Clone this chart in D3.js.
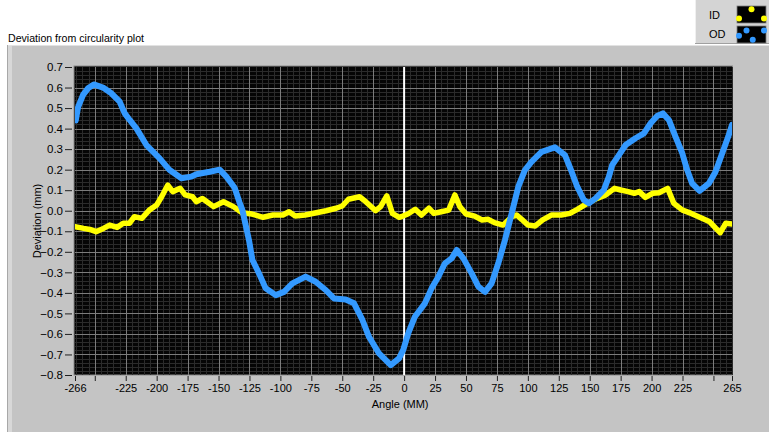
<!DOCTYPE html>
<html>
<head>
<meta charset="utf-8">
<script src="https://cdn.jsdelivr.net/npm/d3@7"></script>
<style>
  html, body { margin: 0; padding: 0; background: #ffffff; }
  svg { display: block; font-family: "Liberation Sans", Arial, sans-serif; }
</style>
</head>
<body>
<svg id="chart" width="769" height="432"></svg>
<script>
// ID trace (inner diameter): angle and deviation in mm
const idAngle = [-266,-259,-254,-249,-243,-238,-232,-227,-222,-218,-212,-206,-200,-196,-191,-187,-181,-177,-171,-168,-163,-154,-146,-138,-131,-123,-114,-106,-98,-93,-88,-80,-71,-63,-55,-50,-45,-36,-31,-23,-19,-14,-9.5,-4,-1,3,9,14,20,24,30,36,41,45,50,57,63,68,73,80,87,91,95,100,106,112,119,127,134,140,148,156,163,170,175,181,186,190,195,201,206,213,218,225,232,238,247,252,255.5,260,265];
const idDev = [-0.078,-0.086,-0.091,-0.102,-0.086,-0.070,-0.081,-0.061,-0.061,-0.029,-0.037,0.003,0.028,0.068,0.125,0.093,0.109,0.077,0.068,0.044,0.060,0.020,0.044,0.020,-0.010,-0.016,-0.032,-0.021,-0.021,-0.005,-0.026,-0.021,-0.010,0.000,0.012,0.023,0.056,0.068,0.044,0.000,0.020,0.072,-0.013,-0.032,-0.026,-0.016,0.007,-0.021,0.012,-0.013,-0.005,0.003,0.077,0.020,-0.016,-0.026,-0.045,-0.042,-0.058,-0.070,-0.029,-0.021,-0.042,-0.070,-0.074,-0.045,-0.021,-0.021,-0.013,0.007,0.036,0.060,0.077,0.109,0.101,0.093,0.085,0.093,0.065,0.085,0.088,0.109,0.036,0.003,-0.013,-0.029,-0.054,-0.086,-0.107,-0.061,-0.065];

// OD trace (outer diameter): angle and deviation in mm
const odAngle = [-265.4,-263.5,-259.5,-255.5,-250.8,-243.4,-236.6,-229.9,-225.8,-221.8,-216.4,-208.3,-197.6,-189.5,-180,-172,-167.9,-157.1,-149.1,-143.7,-137,-133,-130.7,-125.4,-122.6,-117.3,-111.9,-103.8,-97.1,-90.3,-79.6,-71.5,-63.4,-56.7,-47.2,-40.5,-33.7,-28.4,-20.3,-10.8,-4.1,-0.7,3.3,8.7,16.8,22.2,27.7,33,38.4,42.5,47.9,54.6,60,65.4,70.7,76.1,81.5,86.9,92.3,97.6,103.1,111.1,121.9,130,135.4,139.9,145.3,149.3,154.7,161.4,165.5,168.2,173.6,179,187,193.8,199.2,204.5,209.1,214,219.4,224.8,228.8,232.8,238.8,246.3,251.7,257.1,261.9,265];
const odDev = [0.440,0.505,0.564,0.596,0.615,0.600,0.572,0.531,0.474,0.442,0.401,0.320,0.255,0.198,0.158,0.166,0.178,0.190,0.200,0.166,0.112,0.040,0.003,-0.143,-0.240,-0.305,-0.378,-0.411,-0.395,-0.354,-0.321,-0.346,-0.386,-0.427,-0.432,-0.451,-0.532,-0.614,-0.695,-0.752,-0.719,-0.678,-0.597,-0.516,-0.451,-0.378,-0.321,-0.256,-0.232,-0.191,-0.232,-0.305,-0.370,-0.395,-0.354,-0.256,-0.143,-0.013,0.117,0.198,0.239,0.287,0.309,0.271,0.190,0.117,0.052,0.036,0.060,0.101,0.166,0.223,0.271,0.320,0.353,0.377,0.426,0.461,0.474,0.442,0.360,0.280,0.198,0.133,0.097,0.133,0.190,0.280,0.360,0.418];

// Axis ticks and labels
const xTicks = [-266,-250,-225,-200,-175,-150,-125,-100,-75,-50,-25,0,25,50,75,100,125,150,175,200,225,250,265];
const xTickLabels = ["-266","","-225","-200","-175","-150","-125","-100","-75","-50","-25","0","25","50","75","100","125","150","175","200","225","","265"];
const yTicks = [0.7,0.6,0.5,0.4,0.3,0.2,0.1,0.0,-0.1,-0.2,-0.3,-0.4,-0.5,-0.6,-0.7,-0.8];

const seriesNames = ["ID", "OD"];
const seriesColors = ["#ffff00", "#3399ff"];

const svg = d3.select("#chart");
const W = 769, H = 432;
const plot = { left: 75, right: 732, top: 67, bottom: 375 };

const x = d3.scaleLinear().domain([-266, 265]).range([plot.left, plot.right]);
const y = d3.scaleLinear().domain([-0.8, 0.7]).range([plot.bottom, plot.top]);

// Panel background with bevelled edges
svg.append("rect").attr("x", 0).attr("y", 0).attr("width", W).attr("height", H).attr("fill", "#ffffff");
svg.append("rect").attr("x", 7).attr("y", 45).attr("width", W - 7).attr("height", H - 45).attr("fill", "#c4c4c4");
svg.append("rect").attr("x", 7).attr("y", 45).attr("width", 5).attr("height", H - 45).attr("fill", "#d8d8d8");
svg.append("line").attr("x1", 7).attr("x2", W).attr("y1", 45.5).attr("y2", 45.5).attr("stroke", "#e2e2e2");
svg.append("line").attr("x1", 7.5).attr("x2", 7.5).attr("y1", 45).attr("y2", H).attr("stroke", "#a8a8a8");

// Title
svg.append("text").attr("x", 8).attr("y", 42).attr("font-size", "10.6px").attr("fill", "#000")
  .text("Deviation from circularity plot");

// Legend panel
const leg = svg.append("g");
leg.append("rect").attr("x", 695).attr("y", 0).attr("width", 74).attr("height", 44).attr("fill", "#d4d4d4");
leg.append("line").attr("x1", 695.5).attr("x2", 695.5).attr("y1", 0).attr("y2", 44).attr("stroke", "#f0f0f0");
leg.append("line").attr("x1", 695).attr("x2", 769).attr("y1", 43.5).attr("y2", 43.5).attr("stroke", "#a0a0a0");
const legendRows = [{ y: 6, ty: 19 }, { y: 26, ty: 38 }];
const swatchPts = [
  [[0.0, 0.8], [0.5, 0.1], [1.0, 0.8]],
  [[0.0, 0.6], [0.3, 0.2], [0.55, 0.9], [1.0, 0.2]]
];
seriesNames.forEach((name, i) => {
  const r = legendRows[i];
  leg.append("text").attr("x", 709).attr("y", r.ty).attr("font-size", "11px").attr("fill", "#000").text(name);
  leg.append("rect").attr("x", 737).attr("y", r.y).attr("width", 29).attr("height", 17)
    .attr("fill", "#000").attr("stroke", "#808080").attr("stroke-width", 0.8);
  const sx = d3.scaleLinear().domain([0, 1]).range([739, 764]);
  const sy = d3.scaleLinear().domain([0, 1]).range([r.y + 2, r.y + 15]);
  leg.append("g").selectAll("circle").data(swatchPts[i]).join("circle")
    .attr("cx", d => sx(d[0])).attr("cy", d => sy(d[1])).attr("r", 3).attr("fill", seriesColors[i]);
});

// Plot area
svg.append("rect").attr("x", plot.left - 1).attr("y", plot.top - 1)
  .attr("width", plot.right - plot.left + 1.5).attr("height", plot.bottom - plot.top + 1)
  .attr("fill", "#050505").attr("stroke", "#8a8a8a").attr("stroke-width", 1);

const grid = svg.append("g");
// Minor grid
const xMinor = d3.range(-265, 266, 5).filter(v => v % 25 !== 0);
const yMinor = d3.range(-80, 71, 2).filter(v => v % 10 !== 0).map(v => v / 100);
grid.selectAll("line.xm").data(xMinor).join("line")
  .attr("x1", d => Math.round(x(d)) + 0.5).attr("x2", d => Math.round(x(d)) + 0.5)
  .attr("y1", plot.top).attr("y2", plot.bottom).attr("stroke", "#2b2b2b").attr("stroke-width", 1);
grid.selectAll("line.ym").data(yMinor).join("line")
  .attr("y1", d => Math.round(y(d)) + 0.5).attr("y2", d => Math.round(y(d)) + 0.5)
  .attr("x1", plot.left).attr("x2", plot.right).attr("stroke", "#2b2b2b").attr("stroke-width", 1);
// Major grid
const xMajor = xTicks.filter(v => v !== -266 && v !== 265 && v !== 0);
grid.selectAll("line.xM").data(xMajor).join("line")
  .attr("x1", d => Math.round(x(d)) + 0.5).attr("x2", d => Math.round(x(d)) + 0.5)
  .attr("y1", plot.top).attr("y2", plot.bottom).attr("stroke", "#7c7c7c").attr("stroke-width", 1);
grid.selectAll("line.yM").data(yTicks.slice(1, -1)).join("line")
  .attr("y1", d => Math.round(y(d)) + 0.5).attr("y2", d => Math.round(y(d)) + 0.5)
  .attr("x1", plot.left).attr("x2", plot.right).attr("stroke", "#7c7c7c").attr("stroke-width", 1);
// Zero angle line
grid.append("line").attr("x1", x(0)).attr("x2", x(0)).attr("y1", plot.top).attr("y2", plot.bottom)
  .attr("stroke", "#ffffff").attr("stroke-width", 2);

// Traces
const clip = svg.append("clipPath").attr("id", "plotclip").append("rect")
  .attr("x", plot.left).attr("y", plot.top).attr("width", plot.right - plot.left).attr("height", plot.bottom - plot.top);
const line = d3.line().x(d => x(d[0])).y(d => y(d[1])).curve(d3.curveLinear);
const traces = [
  d3.zip(idAngle, idDev),
  d3.zip(odAngle, odDev)
];
const tg = svg.append("g").attr("clip-path", "url(#plotclip)");
traces.forEach((pts, i) => {
  tg.append("path").datum(pts).attr("d", line).attr("fill", "none")
    .attr("stroke", seriesColors[i]).attr("stroke-width", i === 1 ? 6 : 5.5)
    .attr("stroke-linejoin", "round").attr("stroke-linecap", "round");
});

// Axes
const xAxis = d3.axisBottom(x).tickValues(xTicks).tickSize(5).tickPadding(3)
  .tickFormat((d, i) => xTickLabels[i]);
const gx = svg.append("g").attr("transform", `translate(0,${plot.bottom + 1})`).call(xAxis);
gx.select(".domain").remove();
gx.selectAll("line").attr("stroke", "#202020");
gx.selectAll("text").attr("font-size", "11px").attr("fill", "#000").attr("font-family", "Liberation Sans, Arial, sans-serif");

const yAxis = d3.axisLeft(y).tickValues(yTicks).tickSize(7).tickPadding(2).tickFormat(d3.format(".1f"));
const gy = svg.append("g").attr("transform", `translate(${plot.left - 3},0)`).call(yAxis);
gy.select(".domain").remove();
gy.selectAll("line").attr("stroke", "#202020");
gy.selectAll("text").attr("font-size", "11.5px").attr("fill", "#000").attr("font-family", "Liberation Sans, Arial, sans-serif");

// Axis titles
svg.append("text").attr("x", x(0) - 4).attr("y", 408).attr("text-anchor", "middle")
  .attr("font-size", "11px").attr("fill", "#000").text("Angle (MM)");
svg.append("text").attr("transform", `translate(41,${(plot.top + plot.bottom) / 2}) rotate(-90)`)
  .attr("text-anchor", "middle").attr("font-size", "11px").attr("fill", "#000").text("Deviation (mm)");
</script>
</body>
</html>
